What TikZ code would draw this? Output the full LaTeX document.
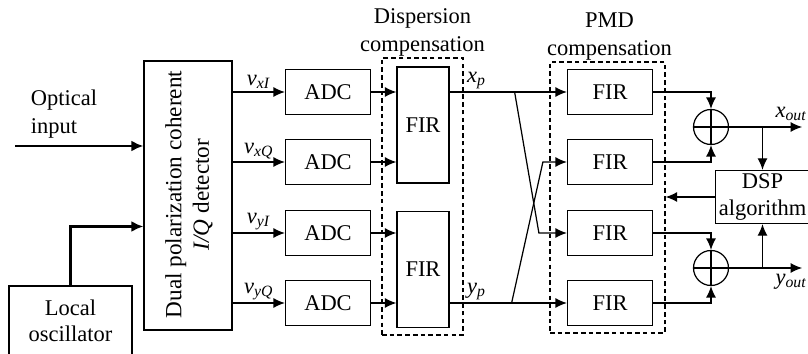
\documentclass[tikz,border=0pt]{standalone}
\usepackage{fontspec}
\setmainfont{Liberation Serif}
\usetikzlibrary{arrows.meta,calc,positioning}

\newcommand{\sig}[2]{\textit{#1}\textsubscript{\textit{#2}}}

\begin{document}
\begin{tikzpicture}[
    x=0.02cm, y=-0.02cm,
    font=\fontsize{12.8}{15.5}\selectfont,
]

\tikzset{
    block/.style = {rectangle, draw=black, line width=0.7pt, align=center, inner sep=2pt},
    adc_box/.style = {block, minimum width=1.7cm, minimum height=0.9cm},
    fir_tall/.style = {block, minimum width=1.04cm, minimum height=2.32cm},
    group_box/.style = {rectangle, draw=black, line width=0.7pt, dash pattern=on 2.6pt off 1.8pt,
                        inner sep=0pt},
    summer/.style = {circle, draw=black, line width=0.7pt, minimum size=0.7cm, inner sep=0pt,
                     path picture={\draw[line width=0.7pt]
                         (path picture bounding box.north) -- (path picture bounding box.south)
                         (path picture bounding box.west) -- (path picture bounding box.east);}},
    arrow/.style = {line width=0.7pt, -{Latex[length=2.3mm, width=2mm]}},
    thick_arrow/.style = {line width=1.6pt, -{Latex[length=2.4mm, width=2.2mm]}},
    sig_label/.style = {inner sep=1.5pt},
    group_label/.style = {above, align=center, inner sep=0.5pt, font=\fontsize{12.8}{16}\selectfont}
}

\useasboundingbox (0,0) rectangle (808,354);

% =========== FRONT END ===========
\node[block, minimum width=1.76cm, minimum height=5.38cm] (det) at (188,195.5) {};
\node[rotate=90, align=center, font=\fontsize{13.2}{15.6}\selectfont] (det_text) at ($(det.center)+(1,-1)$)
    {Dual polarization coherent\\\textit{I/Q} detector};

\node[block, minimum width=2.46cm, minimum height=1.4cm, font=\fontsize{12.8}{15}\selectfont]
    (lo) at (70.5,321) {Local\\oscillator};

\coordinate (opt_in) at (15,146);
\node[align=left] (opt_label) at (64,114) {Optical\\input};
\draw[thick_arrow] (opt_in) -- (opt_in -| det.west);
\draw[thick_arrow] (lo.north) |- ($(det.west)+(0,31)$);

% =========== ADCs ===========
\node[adc_box] (adc1) at (328,92) {ADC};
\node[adc_box] (adc2) at (328,162) {ADC};
\node[adc_box] (adc3) at (328,233) {ADC};
\node[adc_box] (adc4) at (328,303) {ADC};

\draw[arrow] (adc1.west -| det.east) -- node[sig_label, above] {\sig{v}{xI}} (adc1.west);
\draw[arrow] (adc2.west -| det.east) -- node[sig_label, above] {\sig{v}{xQ}} (adc2.west);
\draw[arrow] (adc3.west -| det.east) -- node[sig_label, above] {\sig{v}{yI}} (adc3.west);
\draw[arrow] (adc4.west -| det.east) -- node[sig_label, above] {\sig{v}{yQ}} (adc4.west);

% =========== DISPERSION COMPENSATION ===========
\node[fir_tall] (fir_d1) at (423,125) {FIR};
\node[fir_tall] (fir_d2) at (423,269.5) {FIR};
\node[group_box, minimum width=1.62cm, minimum height=5.54cm] (disp_box) at (422.5,196.5) {};
\node[group_label] (disp_label) at (disp_box.north) {Dispersion\\compensation};

\draw[arrow] (adc1.east) -- (adc1.east -| fir_d1.west);
\draw[arrow] (adc2.east) -- (adc2.east -| fir_d1.west);
\draw[arrow] (adc3.east) -- (adc3.east -| fir_d2.west);
\draw[arrow] (adc4.east) -- (adc4.east -| fir_d2.west);

% =========== PMD COMPENSATION ===========
\node[adc_box] (pmd1) at (610,92) {FIR};
\node[adc_box] (pmd2) at (610,162) {FIR};
\node[adc_box] (pmd3) at (610,233) {FIR};
\node[adc_box] (pmd4) at (610,303) {FIR};
\node[group_box, minimum width=2.3cm, minimum height=5.42cm] (pmd_box) at (607.5,197.5) {};
\node[group_label] (pmd_label) at ($(pmd_box.north)+(2,0)$) {PMD\\compensation};

\draw[arrow] (adc1 -| fir_d1.east) -- node[sig_label, above, pos=0.23] {\sig{x}{p}} (pmd1.west);
\draw[arrow] (adc4 -| fir_d2.east) -- node[sig_label, above, pos=0.23] {\sig{y}{p}} (pmd4.west);

% crossing paths
\coordinate (xp_split) at ($(adc1 -| fir_d1.east)+(65,0)$);
\coordinate (yp_split) at ($(adc4 -| fir_d2.east)+(62,0)$);
\draw[arrow] (xp_split) -- ($(pmd3.west)+(-28,0)$) -- (pmd3.west);
\draw[arrow] (yp_split) -- ($(pmd2.west)+(-24,0)$) -- (pmd2.west);

% =========== SUMMERS AND OUTPUTS ===========
\node[summer] (sum1) at (711,127) {};
\node[summer] (sum2) at (711,268) {};

\draw[arrow] (pmd1.east) -| (sum1.north);
\draw[arrow] (pmd2.east) -| (sum1.south);
\draw[arrow] (pmd3.east) -| (sum2.north);
\draw[arrow] (pmd4.east) -| (sum2.south);

\node[block, minimum width=1.78cm, minimum height=1.02cm, font=\fontsize{12.8}{15}\selectfont]
    (dsp) at (762.5,197) {DSP\\algorithm};

\coordinate (x_out_end) at ($(sum1.east)+(73,0)$);
\coordinate (y_out_end) at ($(sum2.east)+(73,0)$);
\draw[arrow] (sum1.east) -- node[sig_label, above, pos=0.85, inner sep=3pt] {\sig{x}{out}} (x_out_end);
\draw[arrow] (sum2.east) -- node[sig_label, below, pos=0.85, inner sep=3pt] {\sig{y}{out}} (y_out_end);

\draw[arrow] (sum1.east -| dsp.north) -- (dsp.north);
\draw[arrow] (sum2.east -| dsp.south) -- (dsp.south);
\draw[arrow] (dsp.west) -- (dsp.west -| pmd_box.east);

\end{tikzpicture}
\end{document}
